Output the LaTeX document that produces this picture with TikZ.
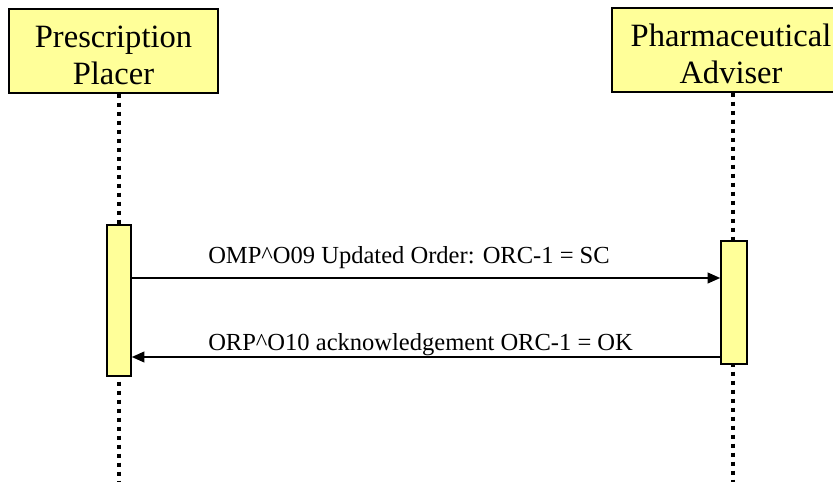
\documentclass[tikz,border=0pt]{standalone}
\usepackage{fontspec}
\setmainfont{Liberation Serif}
\usepackage{tikz}
\usetikzlibrary{arrows.meta}

\definecolor{boxyellow}{RGB}{255,255,153}

\tikzset{
  actor/.style={draw=black,fill=boxyellow,line width=1.1pt,align=center,
    inner sep=0pt,font=\fontsize{24.4}{28}\selectfont},
  actbar/.style={draw=black,fill=boxyellow,line width=1.1pt,inner sep=0pt},
  lifeline/.style={line width=3pt,dash pattern=on 3pt off 3.75pt},
  msg/.style={line width=1.5pt,-{Triangle[length=9.5pt,width=8pt]}},
  msgtext/.style={anchor=base west,inner sep=0pt,font=\fontsize{18.4}{22}\selectfont}
}

\begin{document}
\begin{tikzpicture}[x=0.75pt,y=-0.75pt]
       \clip (0,0) rectangle (833,482);
       % actors
       \node[actor,minimum width=156.75pt,minimum height=63pt] (placer)
         at (113.5,51) {\rule{0pt}{23pt}Prescription\\Placer};
       \node[actor,minimum width=178.5pt,minimum height=63pt] (adviser)
         at (731,50) {\rule{0pt}{23pt}Pharmaceutical\\Adviser};
       \coordinate (placerEnd) at (119,486);
       \coordinate (adviserEnd) at (733,486);
       % lifelines
       \draw[lifeline] (placer.south -| placerEnd) -- (placerEnd);
       \draw[lifeline] (adviser.south -| adviserEnd) -- (adviserEnd);
       % activations
       \node[actbar,minimum width=18pt,minimum height=113.25pt] (placerAct)
         at (119,300.5) {};
       \node[actbar,minimum width=19.5pt,minimum height=92.25pt] (adviserAct)
         at (734,302.5) {};
       % messages
       \coordinate (m1) at (0,278);
       \coordinate (m2) at (0,357);
       \draw[msg] (placerAct.east |- m1) -- (adviserAct.west |- m1);
       \draw[msg] (adviserAct.west |- m2) -- (placerAct.east |- m2);
       \node[msgtext] (m1text) at (208,263) {OMP\^{}O09 Updated Order: ORC-1 = SC};
       \node[msgtext] (m2text) at (208,350) {ORP\^{}O10 acknowledgement ORC-1 = OK};
\end{tikzpicture}
\end{document}
